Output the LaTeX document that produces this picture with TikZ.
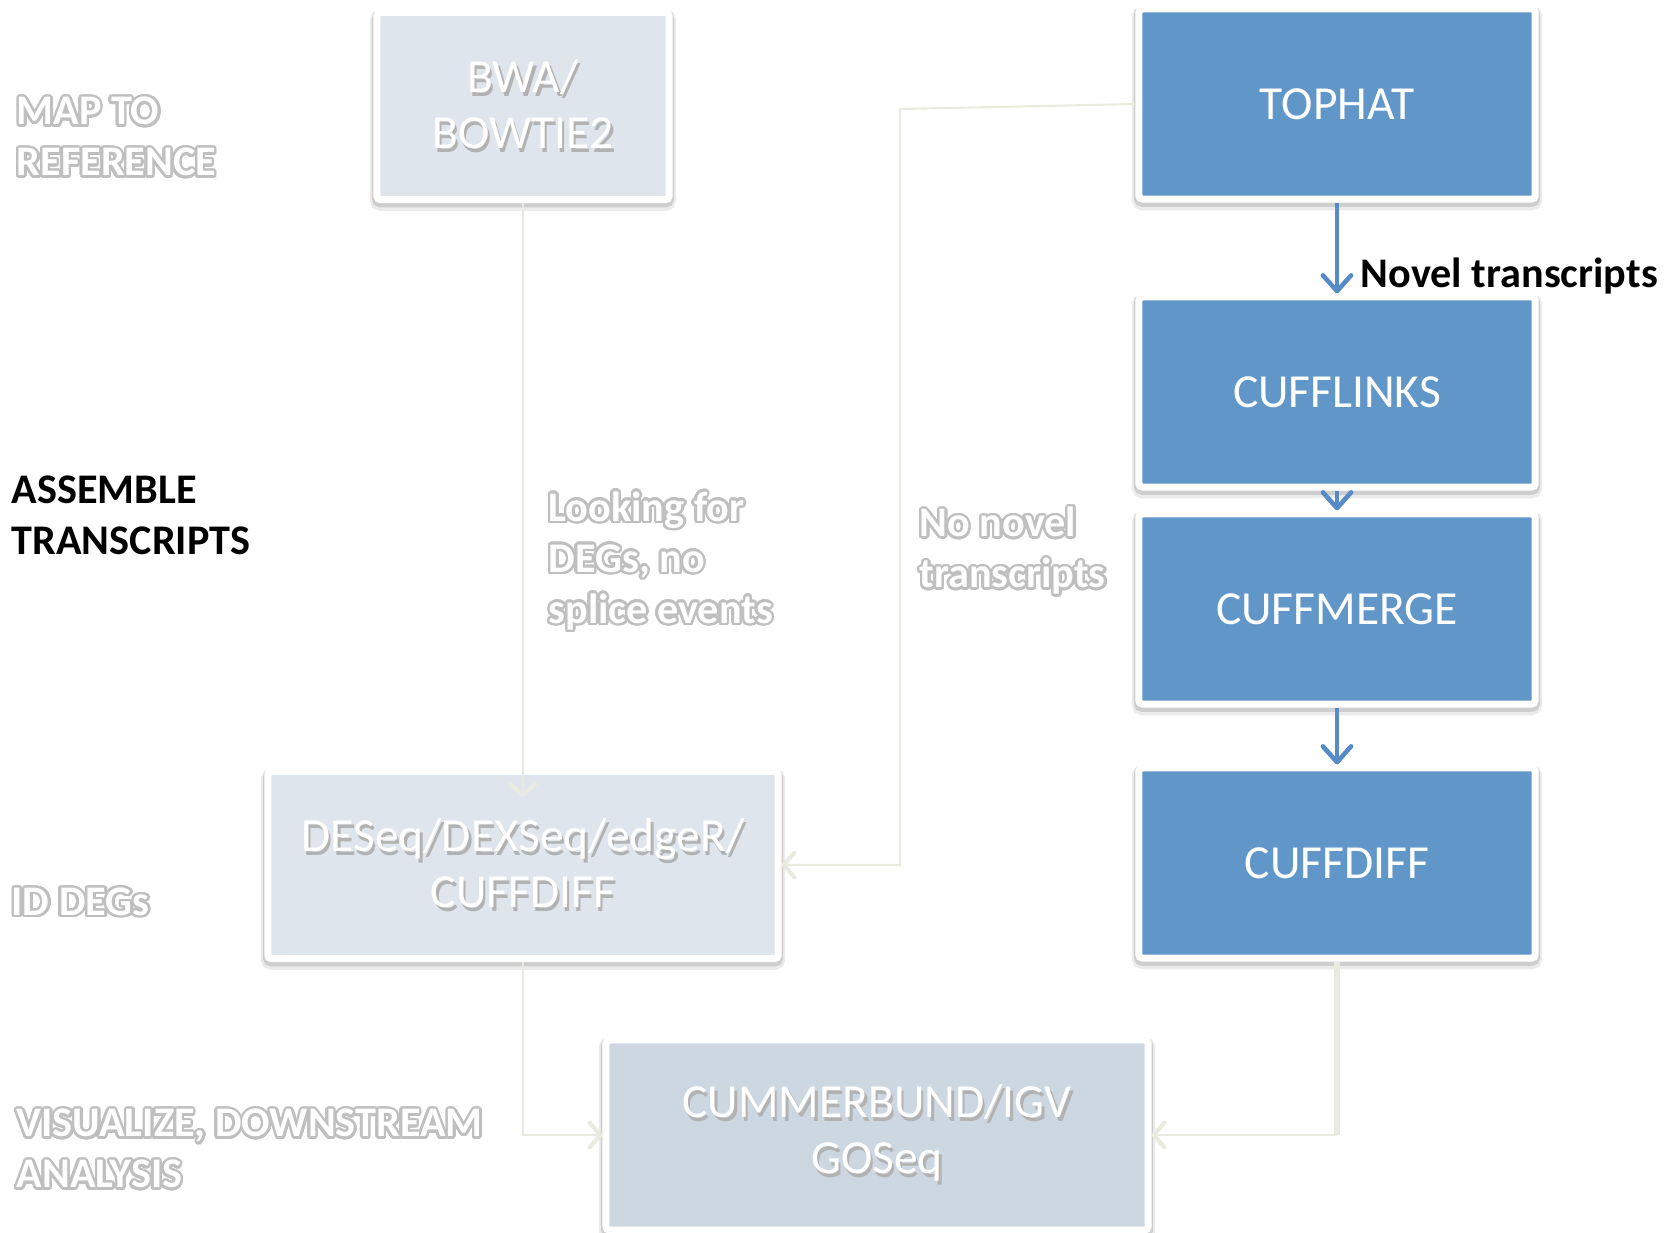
\documentclass[tikz,border=0pt]{standalone}
\usepackage{fontspec}
\setmainfont{Carlito}
\usepackage{contour}
\contourlength{0.7pt}
\contournumber{24}
\usetikzlibrary{arrows.meta}

\definecolor{paleblue}{RGB}{223,229,237}
\definecolor{greyblue}{RGB}{205,215,226}
\definecolor{stepblue}{RGB}{97,150,201}
\definecolor{linkblue}{RGB}{86,139,199}
\definecolor{faint}{RGB}{234,235,224}

\newcommand{\shd}[1]{\leavevmode\rlap{\kern0.7pt\raisebox{-1.2pt}{\textcolor{black!30}{#1}}}#1}
\newcommand{\ghost}[1]{\contour{gray!50}{#1}}

\begin{document}
\begin{tikzpicture}[x=0.01cm, y=-0.01cm,
  box/.style={draw=white, line width=0.07cm, text=white, align=center, rounded corners=1pt,
    preaction={draw=black, draw opacity=0.08, line width=0.14cm, transform canvas={yshift=-1.2pt}},
    preaction={draw=black, draw opacity=0.12, line width=0.10cm, transform canvas={yshift=-0.8pt}},
    font=\fontsize{13.5}{16}\selectfont},
  pale/.style={box, fill=paleblue, minimum height=1.87cm},
  bluebox/.style={box, fill=stepblue, minimum width=3.96cm, minimum height=1.90cm},
  side/.style={anchor=west, align=left, inner sep=0pt, font=\bfseries\fontsize{12}{14.5}\selectfont},
  ghostlabel/.style={side, text=white},
  link/.style={faint, line width=0.6pt, -{Straight Barb[length=3pt,width=7pt,line width=1.2pt,round]}},
  flow/.style={linkblue, line width=1.3pt, -{Straight Barb[length=4.5pt,width=8pt,round]}}]
\useasboundingbox (0,0) rectangle (1676,1232);

% tools
\node[pale, minimum width=2.92cm] (bwa) at (523,106) {\shd{BWA/}\\\shd{BOWTIE2}};
\node[bluebox] (tophat) at (1337,104) {TOPHAT};
\node[bluebox] (cufflinks) at (1337,392) {CUFFLINKS};
\node[bluebox] (cuffmerge) at (1337,609) {CUFFMERGE};
\node[bluebox] (cuffdiff) at (1337,863) {CUFFDIFF};
\node[pale, minimum width=5.10cm] (deseq) at (523,865) {\shd{DESeq/DEXSeq/edgeR/}\\\shd{CUFFDIFF}};
\node[pale, fill=greyblue, minimum width=5.42cm, minimum height=1.90cm] (cummer) at (877,1135) {\shd{CUMMERBUND/IGV}\\\shd{GOSeq}};

% stages
\node[ghostlabel] (map) at (16,138) {\ghost{MAP TO}\\\ghost{REFERENCE}};
\node[side] (assemble) at (11,515) {ASSEMBLE\\TRANSCRIPTS};
\node[ghostlabel] (iddegs) at (11,903) {\ghost{ID DEGs}};
\node[ghostlabel] (visual) at (16,1150) {\ghost{VISUALIZE, DOWNSTREAM}\\\ghost{ANALYSIS}};
\node[ghostlabel] (looking) at (548,562) {\ghost{Looking for}\\\ghost{DEGs, no}\\\ghost{splice events}};
\node[ghostlabel] (nonovel) at (919,552) {\ghost{No novel}\\\ghost{transcripts}};
\node[side] (novel) at (1360,276) {Novel transcripts};

% connectors
\coordinate (bend) at (900,109);
\draw[link, shorten >=-0.29cm] (bwa.south) -- (deseq.north);
\draw[link] (tophat.west) -- (bend) |- (deseq.east);
\draw[link] (deseq.south) |- (cummer.west);
\coordinate (knee) at (cuffdiff.south |- cummer.east);
\draw[faint, line width=1.6pt] (cuffdiff.south) -- (knee);
\draw[link] (knee) -- (cummer.east);
\foreach \a/\b in {tophat/cufflinks, cufflinks/cuffmerge, cuffmerge/cuffdiff}
  \draw[flow] (\a.south) -- (\b.north);
\end{tikzpicture}
\end{document}
